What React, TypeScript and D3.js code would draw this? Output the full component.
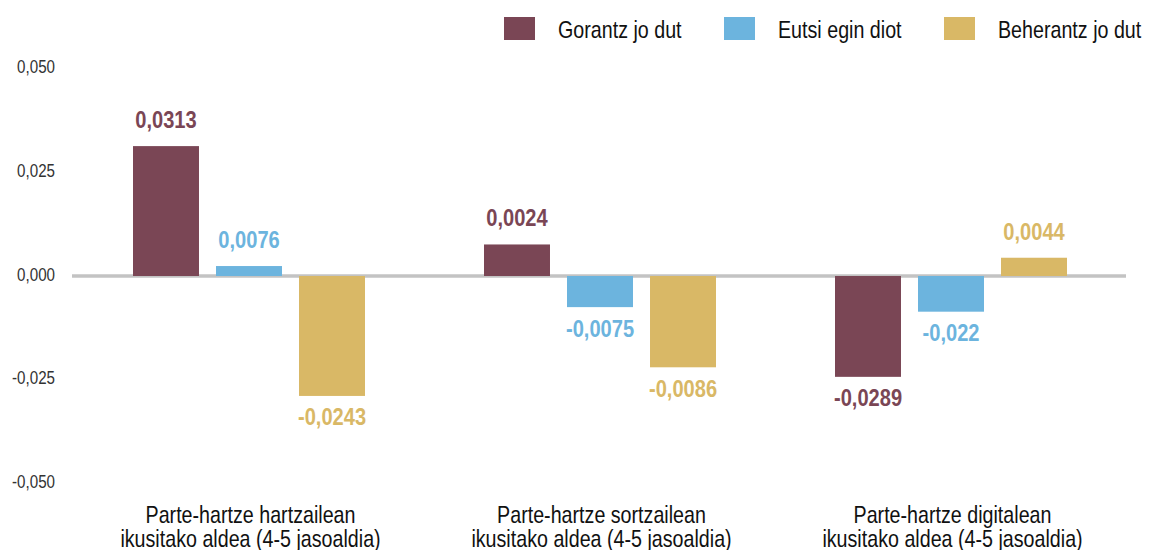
import React from "react";
import * as d3 from "d3";

const categories = [
  ["Parte-hartze hartzailean", "ikusitako aldea (4-5 jasoaldia)"],
  ["Parte-hartze sortzailean", "ikusitako aldea (4-5 jasoaldia)"],
  ["Parte-hartze digitalean", "ikusitako aldea (4-5 jasoaldia)"],
];
const seriesNames = ["Gorantz jo dut", "Eutsi egin diot", "Beherantz jo dut"];
const seriesColors = ["#7a4655", "#6cb4de", "#d9b866"];

// bar heights as drawn in the picture (per series, per category)
const barsGorantz = [0.0313, 0.0076, -0.0243];
const barsEutsi = [0.0024, -0.0075, -0.0086];
const barsBeherantz = [-0.0289, -0.022, 0.0044];

// data labels as printed in the picture
const labelsGorantz = ["0,0313", "0,0024", "-0,0289"];
const labelsEutsi = ["0,0076", "-0,0075", "-0,022"];
const labelsBeherantz = ["-0,0243", "-0,0086", "0,0044"];

const yTicks = [0.05, 0.025, 0, -0.025, -0.05];
const yTickLabels = ["0,050", "0,025", "0,000", "-0,025", "-0,050"];

const W = 1149;
const H = 550;
const FONT = "'Liberation Sans', Arial, sans-serif";
const NARROW = 0.82;

function NText(props: {
  x: number;
  y: number;
  anchor?: "start" | "middle" | "end";
  size: number;
  weight?: string | number;
  fill: string;
  children: React.ReactNode;
}) {
  return (
    <text
      transform={`translate(${props.x},${props.y}) scale(${NARROW},1)`}
      textAnchor={props.anchor || "start"}
      fontSize={props.size}
      fontWeight={props.weight || "normal"}
      fill={props.fill}
    >
      {props.children}
    </text>
  );
}

export default function App() {
  const bars = [barsGorantz, barsEutsi, barsBeherantz];
  const labels = [labelsGorantz, labelsEutsi, labelsBeherantz];

  const y = d3.scaleLinear().domain([-0.05, 0.05]).range([483.5, 68.5]);
  const x0 = d3.scaleBand<number>().domain([0, 1, 2]).range([72, 1125]).padding(0);
  const x1 = d3
    .scaleBand<number>()
    .domain([0, 1, 2])
    .range([61, 293])
    .paddingInner(0.205)
    .paddingOuter(0);

  const y0 = y(0);

  return (
    <svg
      width={W}
      height={H}
      style={{ position: "absolute", left: 0, top: 0, background: "#fff" }}
      fontFamily={FONT}
    >
      {/* y tick labels */}
      {yTicks.map((t, i) => (
        <NText key={i} x={55} y={y(t) + 4.5} anchor="end" size={18.5} fill="#333">
          {yTickLabels[i]}
        </NText>
      ))}

      {/* zero line */}
      <line x1={72} x2={1126} y1={y0} y2={y0} stroke="#c3c3c3" strokeWidth={3.5} />

      {/* bars */}
      {categories.map((_, g) =>
        bars.map((vals, s) => {
          const v = vals[g];
          const bx = (x0(g) as number) + (x1(s) as number);
          const bw = x1.bandwidth();
          const top = Math.min(y(v), y0);
          const h = Math.abs(y(v) - y0);
          const ly = v >= 0 ? y(v) - 18 : y(v) + 29.5;
          return (
            <g key={`${g}-${s}`}>
              <rect x={bx} y={top} width={bw} height={h} fill={seriesColors[s]} />
              <NText
                x={bx + bw / 2}
                y={ly}
                anchor="middle"
                size={24.5}
                weight={600}
                fill={seriesColors[s]}
              >
                {labels[s][g]}
              </NText>
            </g>
          );
        })
      )}

      {/* category labels */}
      {categories.map((lines, g) =>
        lines.map((l, k) => (
          <NText
            key={`${g}-${k}`}
            x={(x0(g) as number) + x0.bandwidth() / 2 + 3}
            y={522.5 + k * 24.5}
            anchor="middle"
            size={24}
            fill="#111"
          >
            {l}
          </NText>
        ))
      )}

      {/* legend */}
      {seriesNames.map((n, i) => (
        <g key={i}>
          <rect x={504 + i * 220} y={17} width={31} height={23} fill={seriesColors[i]} />
          <NText x={558 + i * 220} y={38.3} size={24} fill="#111">
            {n}
          </NText>
        </g>
      ))}
    </svg>
  );
}
